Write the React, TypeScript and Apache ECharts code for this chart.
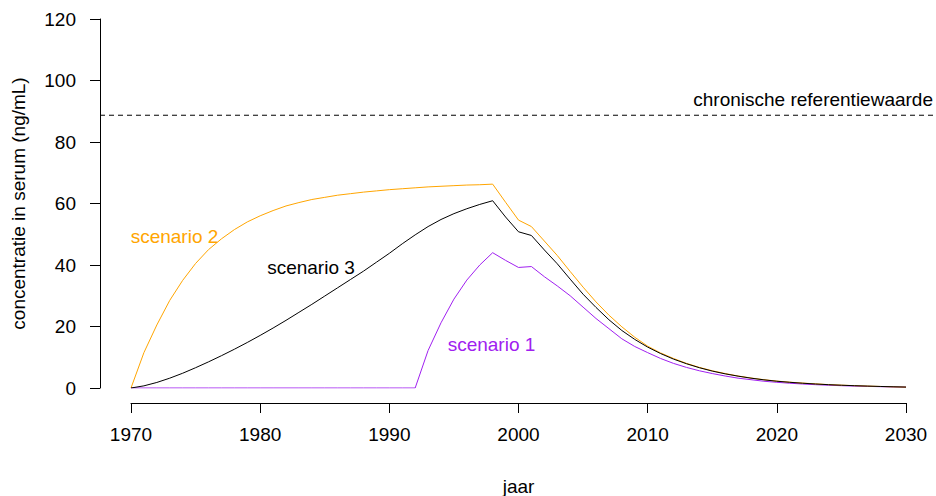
import React, { useEffect, useRef } from "react";
import * as echarts from "echarts";

const years = [
  1970, 1971, 1972, 1973, 1974, 1975, 1976, 1977, 1978, 1979,
  1980, 1981, 1982, 1983, 1984, 1985, 1986, 1987, 1988, 1989,
  1990, 1991, 1992, 1993, 1994, 1995, 1996, 1997, 1998, 1999,
  2000, 2001, 2002, 2003, 2004, 2005, 2006, 2007, 2008, 2009,
  2010, 2011, 2012, 2013, 2014, 2015, 2016, 2017, 2018, 2019,
  2020, 2021, 2022, 2023, 2024, 2025, 2026, 2027, 2028, 2029,
  2030,
];

const scenario1 = [
  0, 0, 0, 0, 0, 0, 0, 0, 0, 0,
  0, 0, 0, 0, 0, 0, 0, 0, 0, 0,
  0, 0, 0, 12.2, 21.2, 28.9, 35.1, 40.0, 44.0, 41.5,
  39.2, 39.5, 36.2, 33.2, 30.0, 26.3, 22.6, 19.3, 16.0, 13.5,
  11.5, 9.6, 8.0, 6.7, 5.6, 4.7, 3.9, 3.2, 2.7, 2.2,
  1.85, 1.55, 1.3, 1.08, 0.9, 0.75, 0.62, 0.52, 0.43, 0.35,
  0.28,
];

const scenario2 = [
  0, 11.5, 20.5, 28.5, 35.0, 40.5, 45.0, 48.5, 51.5, 54.0,
  56.0, 57.7, 59.2, 60.3, 61.3, 62.0, 62.7, 63.2, 63.7, 64.1,
  64.5, 64.8, 65.1, 65.4, 65.6, 65.8, 66.0, 66.1, 66.3, 60.4,
  54.6, 52.5, 47.8, 43.1, 37.9, 32.8, 28.0, 23.7, 19.9, 16.5,
  13.6, 11.4, 9.6, 8.0, 6.7, 5.6, 4.7, 3.9, 3.25, 2.7,
  2.25, 1.9, 1.6, 1.35, 1.1, 0.92, 0.77, 0.62, 0.5, 0.38,
  0.28,
];

const scenario3 = [
  0, 0.7, 1.8, 3.2, 4.8, 6.6, 8.5, 10.5, 12.6, 14.8,
  17.1, 19.5, 22.0, 24.6, 27.2, 29.9, 32.6, 35.3, 38.0, 40.9,
  43.8, 46.9, 49.8, 52.5, 54.8, 56.7, 58.3, 59.7, 60.9, 55.6,
  50.8, 49.6, 44.9, 40.4, 35.4, 30.5, 26.2, 22.2, 18.7, 15.8,
  13.3, 11.2, 9.4, 7.9, 6.6, 5.5, 4.6, 3.85, 3.2, 2.65,
  2.2, 1.85, 1.55, 1.3, 1.08, 0.9, 0.75, 0.62, 0.5, 0.4,
  0.3,
];

const referenceValue = 88.7;
const referenceExtent = [1967.6, 2032.4];
const yTicks = [0, 20, 40, 60, 80, 100, 120];
const xTicks = [1970, 1980, 1990, 2000, 2010, 2020, 2030];

const FONT = "'Liberation Sans', Arial, sans-serif";
const ORANGE = "#FFA500";
const PURPLE = "#A020F0";

function pairs(vals: number[]) {
  return years.map((y, i) => [y, vals[i]]);
}

export default function App() {
  const ref = useRef<HTMLDivElement>(null);
  useEffect(() => {
    if (!ref.current) return;
    const chart = echarts.init(ref.current, null, { renderer: "svg" });
    chart.setOption({
      animation: false,
      backgroundColor: "#ffffff",
      textStyle: { fontFamily: FONT },
      grid: [
        { left: 131, width: 775, top: 19, height: 369, outerBoundsMode: "none", containLabel: false },
        { left: 100, width: 837, top: 19, height: 369, outerBoundsMode: "none", containLabel: false },
      ],
      xAxis: [
        {
          type: "value",
          gridIndex: 0,
          min: xTicks[0],
          max: xTicks[xTicks.length - 1],
          interval: 10,
          offset: 15,
          axisLine: { onZero: false, lineStyle: { color: "#000", width: 1 } },
          axisTick: { length: 10, lineStyle: { color: "#000", width: 1 } },
          axisLabel: {
            fontSize: 19,
            color: "#000",
            margin: 22,
            fontFamily: FONT,
            formatter: (v: number) => String(v),
          },
          splitLine: { show: false },
          name: "jaar",
          nameLocation: "middle",
          nameGap: 74,
          nameTextStyle: { fontSize: 19, color: "#000", fontFamily: FONT },
        },
        {
          type: "value",
          gridIndex: 1,
          min: referenceExtent[0],
          max: referenceExtent[1],
          show: false,
        },
      ],
      yAxis: [
        {
          type: "value",
          gridIndex: 0,
          min: yTicks[0],
          max: yTicks[yTicks.length - 1],
          interval: 20,
          offset: 31,
          axisLine: { show: true, onZero: false, lineStyle: { color: "#000", width: 1 } },
          axisTick: { show: true, length: 10, lineStyle: { color: "#000", width: 1 } },
          axisLabel: { fontSize: 19, color: "#000", margin: 24, fontFamily: FONT },
          splitLine: { show: false },
          name: "concentratie in serum (ng/mL)",
          nameLocation: "middle",
          nameGap: 72,
          nameRotate: 90,
          nameTextStyle: { fontSize: 19, color: "#000", fontFamily: FONT },
        },
        {
          type: "value",
          gridIndex: 1,
          min: yTicks[0],
          max: yTicks[yTicks.length - 1],
          show: false,
        },
      ],
      series: [
        {
          name: "referentie",
          type: "line",
          xAxisIndex: 1,
          yAxisIndex: 1,
          data: [
            [referenceExtent[0], referenceValue],
            [referenceExtent[1], referenceValue],
          ],
          symbol: "none",
          lineStyle: { color: "#000", width: 1, type: [5, 4] },
          silent: true,
        },
        {
          name: "scenario 1",
          type: "line",
          data: pairs(scenario1),
          symbol: "none",
          lineStyle: { color: PURPLE, width: 1 },
        },
        {
          name: "scenario 2",
          type: "line",
          data: pairs(scenario2),
          symbol: "none",
          lineStyle: { color: ORANGE, width: 1 },
        },
        {
          name: "scenario 3",
          type: "line",
          data: pairs(scenario3),
          symbol: "none",
          lineStyle: { color: "#000", width: 1 },
        },
      ],
      graphic: [
        {
          type: "text",
          x: 174.5,
          y: 236,
          style: { text: "scenario 2", fill: ORANGE, font: `19px ${FONT}`, textAlign: "center", textVerticalAlign: "middle" },
        },
        {
          type: "text",
          x: 311,
          y: 267,
          style: { text: "scenario 3", fill: "#000", font: `19px ${FONT}`, textAlign: "center", textVerticalAlign: "middle" },
        },
        {
          type: "text",
          x: 491.5,
          y: 344,
          style: { text: "scenario 1", fill: PURPLE, font: `19px ${FONT}`, textAlign: "center", textVerticalAlign: "middle" },
        },
        {
          type: "text",
          x: 933,
          y: 99,
          style: { text: "chronische referentiewaarde", fill: "#000", font: `19px ${FONT}`, textAlign: "right", textVerticalAlign: "middle" },
        },
      ],
    });
    return () => chart.dispose();
  }, []);
  return <div ref={ref} style={{ width: 936, height: 496, position: "absolute", left: 0, top: 0 }} />;
}
